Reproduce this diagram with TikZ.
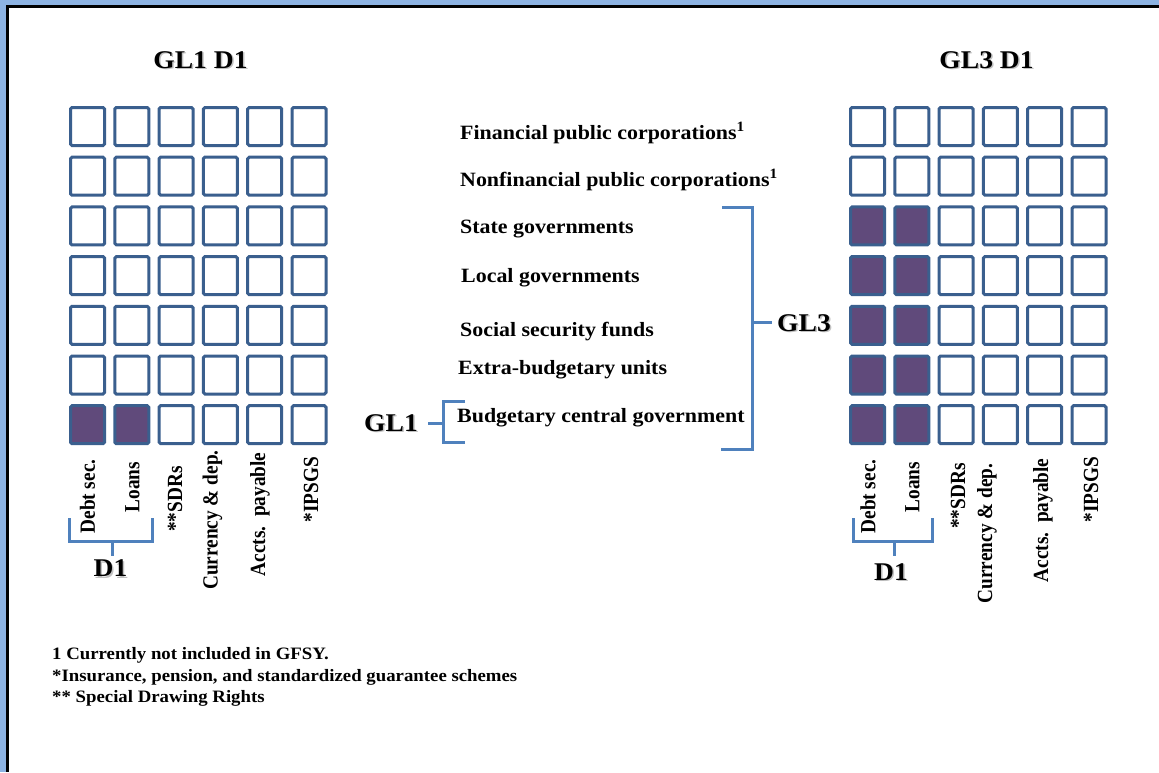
\documentclass[tikz,border=0pt]{standalone}
\usepackage{fontspec}
\setmainfont{Liberation Serif}[FakeStretch=1.08]
\newfontfamily\rotfont{Liberation Serif}
\definecolor{boxblue}{HTML}{3A5F8E}
\definecolor{fillpurple}{HTML}{604A7B}
\definecolor{brblue}{HTML}{4F81BD}
\definecolor{bandblue}{HTML}{8DB3E2}
\tikzset{
  cell/.style={draw=boxblue, line width=3pt, rounded corners=1.5pt, fill=white,
    minimum width=34pt, minimum height=38pt, inner sep=0pt},
  cellf/.style={cell, fill=fillpurple},
  br/.style={draw=brblue, line width=3pt},
  title/.style={font=\fontsize{25.5}{30}\selectfont\bfseries, inner sep=0pt},
  tshadow/.style={title, text=black!40, opacity=0.6},
  mid/.style={font=\fontsize{20.3}{24}\selectfont\bfseries, anchor=west, inner sep=0pt},
  collab/.style={font=\rotfont\fontsize{19.3}{23}\selectfont\bfseries, rotate=90, yscale=1.12, inner sep=0pt},
  foot/.style={font=\fontsize{17.4}{21}\selectfont\bfseries, anchor=west, inner sep=0pt},
}
\begin{document}
\begin{tikzpicture}[x=1pt,y=-1pt]
\useasboundingbox (0,0) rectangle (1159,772);
\fill[white] (0,0) rectangle (1159,772);
% frame
\fill[bandblue] (0,0) rectangle (1159,5);
\fill[bandblue] (0,0) rectangle (6,772);
\fill[black] (6,5) rectangle (1159,7.5);
\fill[black] (6,5) rectangle (8.5,772);

% titles
\node[tshadow] (t1s) at (202,61.5) {GL1 D1};
\node[title] (t1) at (200.5,60) {GL1 D1};
\node[tshadow] (t3s) at (988,61.5) {GL3 D1};
\node[title] (t3) at (986.5,60) {GL3 D1};

% grids
\foreach \r in {1,...,7}{\foreach \c in {1,...,6}{
  \ifnum\c<3 \ifnum\r=7 \def\sty{cellf}\else\def\sty{cell}\fi\else\def\sty{cell}\fi
  \node[\sty] (L\r\c) at ({87.5+44.3*(\c-1)},{126.5+49.7*(\r-1)}) {};
  \ifnum\c<3 \ifnum\r>2 \def\stb{cellf}\else\def\stb{cell}\fi\else\def\stb{cell}\fi
  \node[\stb] (R\r\c) at ({867.5+44.3*(\c-1)},{126.5+49.7*(\r-1)}) {};
}}

% column labels left
\node[collab] (lc1) at (87.5,496.5) {Debt sec.};
\node[collab] (lc2) at (132.5,487) {Loans};
\node[collab] (lc3) at (175,499) {**SDRs};
\node[collab] (lc4) at (212.5,520) {Currency \& dep.};
\node[collab] (lc5) at (260,514.5) {Accts.\ \ payable};
\node[collab] (lc6) at (311,489.5) {*IPSGS};
% column labels right
\node[collab] (rc1) at (868,496.5) {Debt sec.};
\node[collab] (rc2) at (912.5,487) {Loans};
\node[collab] (rc3) at (958,496) {**SDRs};
\node[collab] (rc4) at (987,533.5) {Currency \& dep.};
\node[collab] (rc5) at (1043,520.5) {Accts.\ \ payable};
\node[collab] (rc6) at (1091,489.5) {*IPSGS};

% D1 brackets
\draw[br] (69,518) -- (69,541) -- (152,541) -- (152,518);
\coordinate (ld1top) at (112,541);
\coordinate (ld1bot) at (112,556);
\draw[br] (ld1top) -- (ld1bot);
\node[tshadow] (ld1s) at (112,570) {D1};
\node[title] (ld1) at (110.5,568.5) {D1};

\draw[br] (853,518) -- (853,541) -- (932,541) -- (932,518);
\coordinate (rd1top) at (894,541);
\coordinate (rd1bot) at (894,556);
\draw[br] (rd1top) -- (rd1bot);
\node[tshadow] (rd1s) at (892.5,573.5) {D1};
\node[title] (rd1) at (891,572) {D1};

% middle labels
\node[mid] (fpc) at (460,133) {Financial public corporations\textsuperscript{1}};
\node[mid] (npc) at (460,180) {Nonfinancial public corporations\textsuperscript{1}};
\node[mid] (sg) at (460,229) {State governments};
\node[mid] (lg) at (461,278) {Local governments};
\node[mid] (ssf) at (460,332) {Social security funds};
\node[mid] (ebu) at (458,370) {Extra-budgetary units};
\node[mid] (bcg) at (457,418) {Budgetary central government};

% GL3 bracket
\draw[br] (722,207) -- (752,207) -- (752,449) -- (721,449);
\coordinate (gl3a) at (752,322);
\draw[br] (gl3a) -- (772,322) coordinate (gl3b);
\node[tshadow, anchor=west] (gl3s) at (778.5,324.5) {GL3};
\node[title, anchor=west] (gl3) at (777,323) {GL3};

% GL1 bracket
\draw[br] (465,401) -- (443,401) -- (443,442) -- (465,442);
\coordinate (gl1a) at (443,423);
\draw[br] (gl1a) -- (428,423) coordinate (gl1b);
\node[tshadow] (gl1s) at (392.5,424.5) {GL1};
\node[title] (gl1) at (391,423) {GL1};

% footnotes
\node[foot] (f1) at (52,655) {1 Currently not included in GFSY.};
\node[foot] (f2) at (52,677) {*Insurance, pension, and standardized guarantee schemes};
\node[foot] (f3) at (52,698) {** Special Drawing Rights};
\end{tikzpicture}
\end{document}
